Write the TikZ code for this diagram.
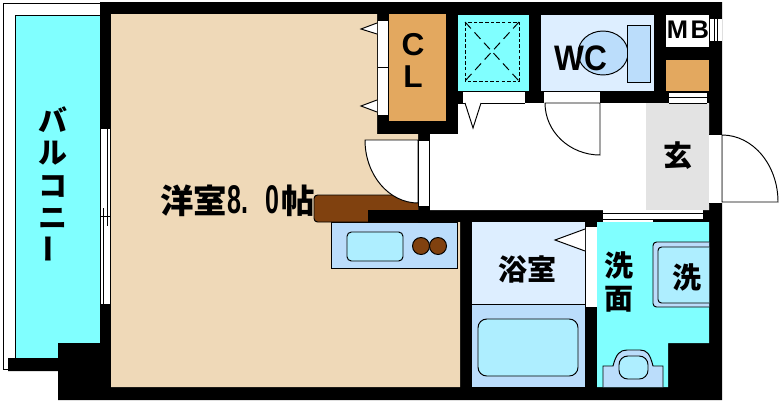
\documentclass[tikz,border=0pt]{standalone}
\usepackage{fontspec}
\newfontfamily\cjk{Noto Sans CJK JP}
\newfontfamily\lat{Liberation Sans}
\definecolor{roomfill}{HTML}{EFD9B8}
\definecolor{cyanfill}{HTML}{80FFFF}
\definecolor{closetfill}{HTML}{E3A85F}
\definecolor{palefill}{HTML}{DDEEFF}
\definecolor{bluefill}{HTML}{BBDDFB}
\definecolor{aquafill}{HTML}{AEEEFF}
\definecolor{entryfill}{HTML}{E3E3E3}
\definecolor{brownfill}{HTML}{80410F}
\tikzset{
  thinline/.style={draw=black,line width=0.55pt},
  jptext/.style={font=\cjk\bfseries\fontsize{16.5}{18.4}\selectfont,inner sep=0pt,align=center},
  latext/.style={font=\lat\bfseries\fontsize{18}{20}\selectfont,inner sep=0pt}
}
\begin{document}
\begin{tikzpicture}[x=0.02cm,y=-0.02cm]
\useasboundingbox (0,0) rectangle (783,403);
\fill[white] (0,0) rectangle (783,403);
\draw[thinline,fill=white] (3,3) rectangle (100,369);
\draw[thinline,fill=cyanfill] (15,15) rectangle (100,358);
\fill (100,2) -- (722,2) -- (722,400) -- (58,400) -- (58,371) -- (8,371) -- (8,358) -- (58,358) -- (58,343) -- (100,343) -- cycle;
\fill[roomfill] (111,14) -- (377,14) -- (377,134) -- (418,134) -- (418,210) -- (421,222) -- (460,222) -- (460,387) -- (111,387) -- cycle;
\fill[white] (430,134) -- (458,134) -- (458,103) -- (709,103) -- (709,210) -- (430,210) -- cycle;
\fill[entryfill] (646,103) rectangle (709,210);
\fill[white] (100,129) rectangle (111,304);
\draw[thinline] (100.5,129) -- (100.5,304);
\draw[thinline] (110.5,129) -- (110.5,304);
\draw[thinline] (103.5,208) -- (103.5,304);
\draw[thinline] (107.5,129) -- (107.5,226);
\draw[thinline] (100.5,216) -- (110.5,216);
% closet
\fill[closetfill] (389,14) rectangle (446,121);
\fill[white] (378,20) rectangle (388,115);
\draw[thinline] (378,67) -- (388,67);
\draw[thinline] (378,20) -- (388,20);
\draw[thinline] (378,115) -- (388,115);
\draw[thinline,fill=white] (377,23) -- (361,29) -- (377,34);
\draw[thinline,fill=white] (377,100) -- (361,106) -- (377,112);
% shower
\fill[cyanfill] (458,15) rectangle (529,91);
\draw[thinline] (458,91) -- (529,91);
\draw[thinline,dash pattern=on 2pt off 1.2pt] (465,22) rectangle (519,81);
\draw[thinline,dash pattern=on 5pt off 3pt] (465,22) -- (519,81);
\draw[thinline,dash pattern=on 5pt off 3pt] (519,22) -- (465,81);
\fill[white] (463,92) rectangle (525,103);
\draw[thinline] (458,103) -- (525,103);
\draw[thinline,fill=white] (465,103) -- (473,128) -- (481,103);
% wc
\fill[palefill] (541,15) rectangle (654,91);
\draw[thinline] (541,91) -- (654,91);
\draw[thinline,fill=bluefill] (603,53) ellipse [x radius=25,y radius=22];
\draw[thinline,fill=bluefill] (627,25) rectangle (650,82);
\fill[white] (544,92) rectangle (600,103);
\draw[thinline,fill=white] (545,103) .. controls (545,132) and (570,155) .. (600,155) -- (600,103) -- cycle;
% mb
\fill[white] (666,15) rectangle (709,47);
\fill[white] (709,19) rectangle (722,41);
\draw[thinline] (709.5,19) -- (709.5,41);
\draw[thinline] (714.5,19) -- (714.5,41) (717.5,19) -- (717.5,41);
\fill[closetfill] (666,60) rectangle (709,91);
\fill[white] (669,92) rectangle (707,103);
\draw[thinline] (669,97) -- (707,97) (669,92) -- (707,92) (669,103) -- (707,103);
% front door
\fill[white] (709,134) rectangle (722,203);
\draw[thinline] (709,134) -- (722,134) (709,203) -- (722,203);
\draw[thinline] (722,135) .. controls (753,135) and (778,165) .. (778,202) -- (722,202) -- cycle;
% hall opening
\fill[white] (603,210) rectangle (703,219);
\fill[white] (603,219) rectangle (653,222);
\draw[thinline] (603,213) -- (703,213);
\draw[thinline] (603,219) -- (653,219);
\draw[thinline,dash pattern=on 2.5pt off 1.5pt] (653,219) -- (703,219);
% counter
\draw[thinline,fill=bluefill] (331,222) rectangle (457,268);
\draw[thinline,fill=aquafill,rounded corners=2.5pt] (347,232) rectangle (403,261);
\draw[thinline,fill=brownfill] (421,246) circle [radius=8.5];
\draw[thinline,fill=brownfill] (438,246) circle [radius=8.5];
\draw[thinline,fill=brownfill,rounded corners=2pt] (418,222) -- (314,222) -- (314,195) -- (418,195);
\fill (368,210) rectangle (430,222);
% room door
\draw[thinline,fill=white] (365,140) .. controls (365,175) and (389,203) .. (418,203) -- (418,140) -- cycle;
\fill[white] (418,140) rectangle (430,206);
\draw[thinline] (418,140) -- (430,140) (418,206) -- (430,206);
\draw[thinline] (418.5,140) -- (418.5,206) (429.5,140) -- (429.5,206);
% bath
\fill[palefill] (472,222) rectangle (585,304);
\fill[bluefill] (472,305) rectangle (585,387);
\draw[thinline] (472,304.5) -- (585,304.5);
\draw[thinline,fill=aquafill,rounded corners=5pt] (478,319) rectangle (578,376);
\fill[white] (585,227) rectangle (597,307);
\draw[thinline] (585,227) -- (585,307);
\draw[thinline,fill=white] (585,229) -- (555,240) -- (585,251);
% washroom
\fill[cyanfill] (597,222) -- (709,222) -- (709,343) -- (668,343) -- (668,387) -- (597,387) -- cycle;
\draw[thinline,fill=bluefill,rounded corners=2pt] (709,242) -- (653,242) -- (653,307) -- (709,307);
\draw[thinline,fill=aquafill,rounded corners=2pt] (709,247) -- (658,247) -- (658,303) -- (709,303);
\draw[thinline,fill=bluefill] (603,387) -- (603,366) -- (613,366) .. controls (616,354) and (620,350) .. (627,350) -- (640,350) .. controls (647,350) and (650,354) .. (653,366) -- (663,366) -- (663,387);
\draw[thinline,fill=aquafill,rounded corners=5pt] (619,356) rectangle (648,379);
% labels
\node[jptext] (balcony) at (53,185) {バ\\ル\\コ\\ニ\\[1.5pt]\rotatebox{90}{ー}};
\node[jptext,anchor=west,font=\cjk\bfseries\fontsize{19}{20}\selectfont] (room) at (160,201) {洋室{\lat\bfseries\scalebox{0.75}[1.2]{8.\hspace{13pt}0}}\hspace{1.5pt}帖};
\node[latext] (closetc) at (413,45) {C};
\node[latext] (closetl) at (413,77) {L};
\node[latext] (wc) at (581,58) {\scalebox{1}[1.12]{WC}};
\node[latext,font=\lat\bfseries\fontsize{14.5}{16}\selectfont] (mb) at (688,29.5) {M\hspace{1.5pt}B};
\node[jptext] (entry) at (678,156) {玄};
\node[jptext] (bath) at (527,269) {浴室};
\node[jptext,anchor=center] (wash) at (619,282) {洗\\面};
\node[jptext] (washer) at (687,277) {洗};
\end{tikzpicture}
\end{document}
